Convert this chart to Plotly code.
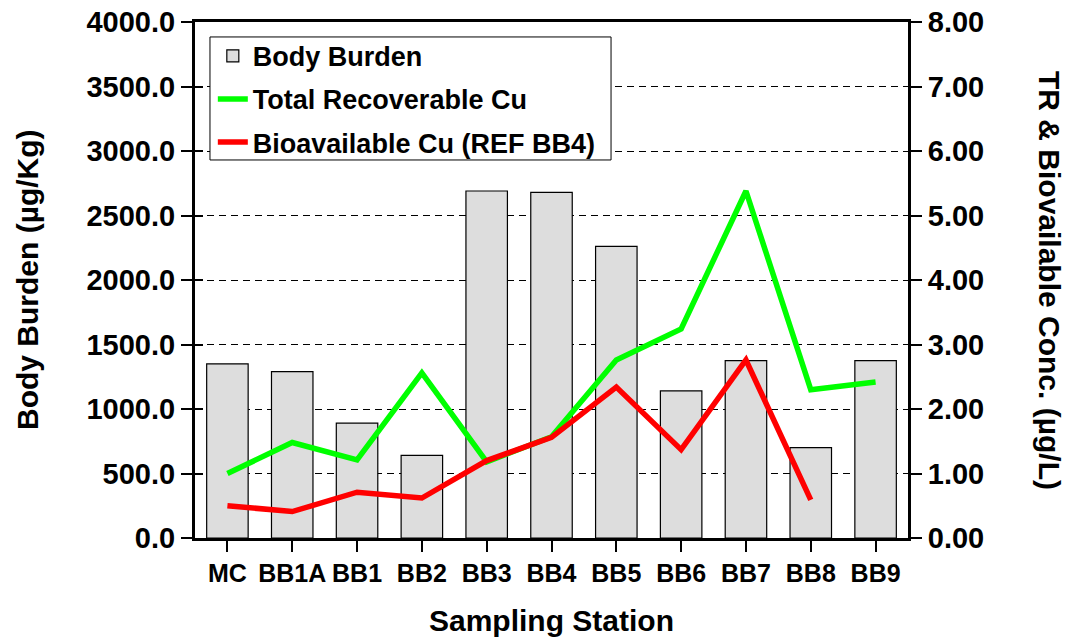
import plotly.graph_objects as go

stations = ["MC", "BB1A", "BB1", "BB2", "BB3", "BB4", "BB5", "BB6", "BB7", "BB8", "BB9"]
body_burden = [1350, 1290, 890, 640, 2690, 2680, 2260, 1140, 1375, 700, 1375]
total_cu = [1.00, 1.48, 1.21, 2.56, 1.18, 1.57, 2.76, 3.24, 5.38, 2.30, 2.42]
bio_cu = [0.50, 0.41, 0.71, 0.62, 1.20, 1.56, 2.34, 1.37, 2.76, 0.59, None]

FONT = "Arial, Liberation Sans, sans-serif"

fig = go.Figure()
fig.add_trace(go.Bar(
    x=stations, y=body_burden, name="Body Burden", legendgroup="a",
    marker=dict(color="#DDDDDD", line=dict(color="black", width=1.2)),
    width=0.64,
))
fig.add_trace(go.Scatter(
    x=stations, y=total_cu, name="Total Recoverable Cu", yaxis="y2", legendgroup="b",
    mode="lines", line=dict(color="#00FF00", width=5.5),
))
fig.add_trace(go.Scatter(
    x=stations, y=bio_cu, name="Bioavailable Cu (REF BB4)", yaxis="y2", legendgroup="c",
    mode="lines", line=dict(color="#FF0000", width=5.5),
))
# carrier for the inner half of the left ticks
fig.add_trace(go.Scatter(
    x=stations, y=body_burden, yaxis="y3", mode="none",
    showlegend=False, hoverinfo="skip",
))

tick = dict(showline=True, linecolor="black", linewidth=3, automargin=False,
            ticks="outside", ticklen=11, tickwidth=2, tickcolor="black")

fig.update_layout(
    width=1068, height=639,
    margin=dict(l=195, r=160, t=22, b=101, autoexpand=False),
    plot_bgcolor="white", paper_bgcolor="white",
    font=dict(family=FONT, color="black", size=27, weight="bold"),
    showlegend=True,
    legend=dict(
        x=0.025, y=0.981, xanchor="left", yanchor="top",
        borderwidth=0, bgcolor="rgba(0,0,0,0)",
        font=dict(size=27, weight="bold"),
        tracegroupgap=5, itemwidth=30,
    ),
    xaxis=dict(
        tickfont=dict(size=25, weight="bold"),
        mirror=True, range=[-0.5, 10.5], **tick,
    ),
    yaxis=dict(
        range=[0, 4000], dtick=500, tickformat=".1f",
        tickfont=dict(size=29, weight="bold"),
        showgrid=True, gridcolor="black", gridwidth=1.3, griddash="7px,5px",
        zeroline=False, **tick,
    ),
    yaxis2=dict(
        overlaying="y", side="right",
        range=[0, 8], dtick=1, tickformat=".2f",
        tickfont=dict(size=29, weight="bold"),
        showgrid=False, zeroline=False, **tick,
    ),
    yaxis3=dict(
        overlaying="y", side="left", automargin=False,
        range=[0, 4000], dtick=500, showticklabels=False,
        ticks="inside", ticklen=8, tickwidth=2, tickcolor="black",
        showgrid=False, zeroline=False, showline=False,
    ),
    shapes=[dict(
        type="rect", xref="paper", yref="paper",
        x0=0.021, x1=0.5835, y0=0.7326, y1=0.971,
        line=dict(color="black", width=1), fillcolor="white", layer="above",
    )],
    annotations=[
        dict(text="Body Burden (µg/Kg)", textangle=-90,
             xref="paper", yref="paper", x=0, y=0.5, xshift=-168,
             xanchor="center", yanchor="middle",
             showarrow=False, font=dict(size=30, weight="bold")),
        dict(text="TR & Biovailable Conc. (µg/L)", textangle=90,
             xref="paper", yref="paper", x=1, y=0.5, xshift=142,
             xanchor="center", yanchor="middle",
             showarrow=False, font=dict(size=30, weight="bold")),
        dict(text="Sampling Station",
             xref="paper", yref="paper", x=0.5, y=0, yshift=-82,
             xanchor="center", yanchor="middle",
             showarrow=False, font=dict(size=30, weight="bold")),
    ],
)

# drop the page's default body margin so the figure sits at the window origin
fig.write_html("out.html", config={"displayModeBar": False},
               post_script="document.body.style.margin='0';")
